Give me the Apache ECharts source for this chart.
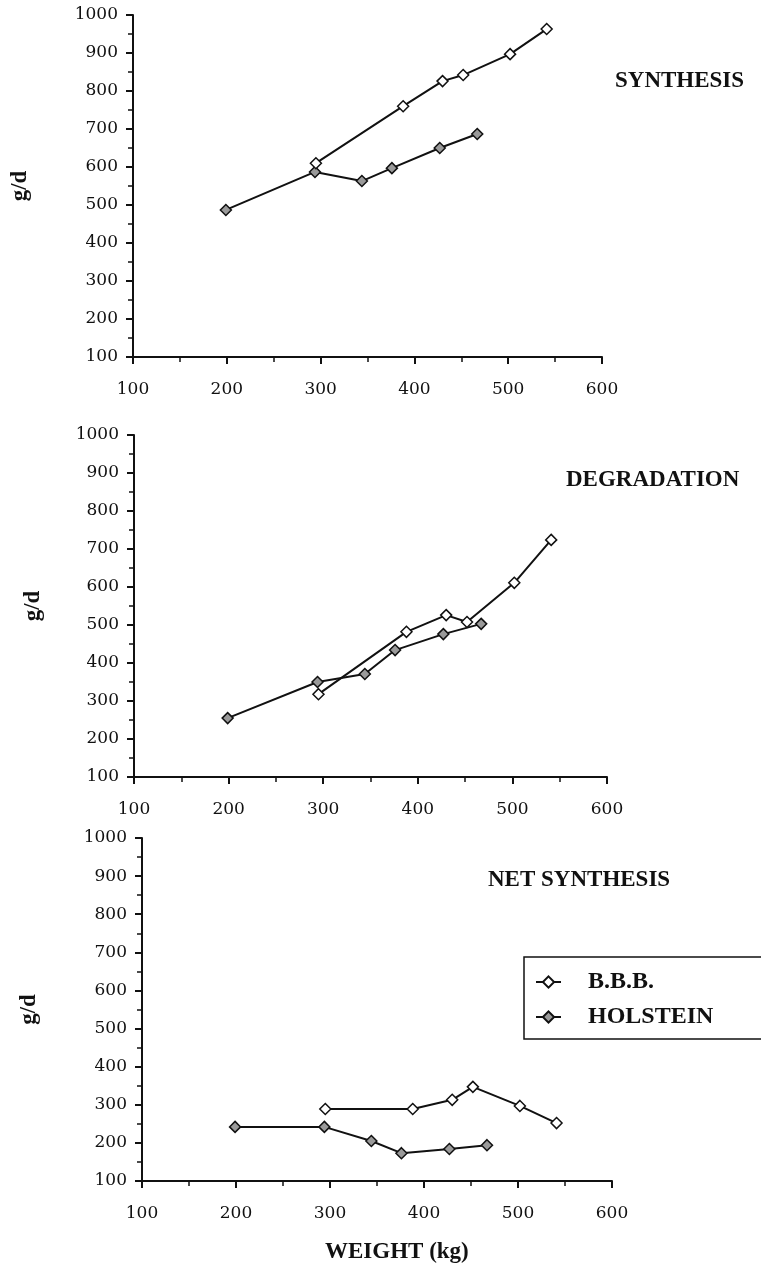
<!DOCTYPE html>
<html>
<head>
<meta charset="utf-8">
<title>Protein synthesis / degradation</title>
<script src="https://cdn.jsdelivr.net/npm/echarts@6/dist/echarts.min.js"></script>
<style>
	html, body { margin: 0; padding: 0; background: #fff; }
	#protein-turnover { width: 761px; height: 1271px; }
</style>
</head>
<body>
<div id="protein-turnover"></div>
<script>
// live weight (kg) at each measurement
var weightBBB = [295, 388, 430, 452, 502, 541];
var weightHolstein = [199, 294, 344, 376, 427, 467];

// g/d
var synthesisBBB = [610, 760, 826, 842, 897, 963];
var synthesisHolstein = [487, 587, 563, 597, 650, 687];
var degradationBBB = [318, 482, 526, 508, 611, 724];
var degradationHolstein = [255, 350, 371, 434, 476, 503];
var netBBB = [289, 289, 313, 347, 297, 252];
var netHolstein = [242, 242, 205, 173, 184, 194];

var panelTitles = ['SYNTHESIS', 'DEGRADATION', 'NET SYNTHESIS'];
var breeds = ['B.B.B.', 'HOLSTEIN'];

function pairs(xs, ys){
	var out = [];
	for (var i = 0; i < xs.length; i++) {
		out.push([xs[i], ys[i]]);
	}
	return out;
}

function proteinTurnover(){
	var chart = echarts.init(document.getElementById('protein-turnover'));

	var ink = '#111';
	var serif = 'DejaVu Serif';
	var boldSerif = 'Liberation Serif';

	// outerBoundsMode off so the plot boxes stay where they are put
	var grids = [
		{left: 133, top: 15, width: 469, height: 342, outerBoundsMode: 'none'},
		{left: 134, top: 435, width: 473, height: 342, outerBoundsMode: 'none'},
		{left: 142, top: 838, width: 470, height: 343, outerBoundsMode: 'none'}
	];
	var nameGaps = [101, 89, 101];

	var xAxes = [], yAxes = [];
	for (var g = 0; g < 3; g++) {
		xAxes.push({
			type: 'value',
			gridIndex: g,
			min: 100,
			max: 600,
			interval: 100,
			axisLine: {show: true, onZero: false, lineStyle: {color: ink, width: 2}},
			axisTick: {show: true, length: 7, lineStyle: {color: ink, width: 2}},
			minorTick: {show: true, splitNumber: 2, length: 5, lineStyle: {color: ink, width: 1.5}},
			splitLine: {show: false},
			axisLabel: {
				margin: 24, color: ink, fontFamily: serif, fontSize: 17,
				formatter: function(v){ return String(v); }
			}
		});
		yAxes.push({
			type: 'value',
			gridIndex: g,
			min: 100,
			max: 1000,
			interval: 100,
			name: 'g/d',
			nameLocation: 'middle',
			nameRotate: 90,
			nameGap: nameGaps[g],
			nameTextStyle: {color: ink, fontFamily: boldSerif, fontWeight: 'bold', fontSize: 23},
			axisLine: {show: true, lineStyle: {color: ink, width: 2}},
			axisTick: {show: true, length: 7, lineStyle: {color: ink, width: 2}},
			minorTick: {show: true, splitNumber: 2, length: 5, lineStyle: {color: ink, width: 1.5}},
			splitLine: {show: false},
			axisLabel: {
				margin: 15, color: ink, fontFamily: serif, fontSize: 17,
				formatter: function(v){ return String(v); }
			}
		});
	}

	var bbbStyle = {
		symbol: 'diamond',
		symbolSize: 11,
		itemStyle: {color: '#ffffff', borderColor: ink, borderWidth: 1.5},
		lineStyle: {color: ink, width: 2}
	};
	var holsteinStyle = {
		symbol: 'diamond',
		symbolSize: 11,
		itemStyle: {color: '#9a9a9a', borderColor: ink, borderWidth: 1.5},
		lineStyle: {color: ink, width: 2}
	};

	var panels = [
		[synthesisBBB, synthesisHolstein],
		[degradationBBB, degradationHolstein],
		[netBBB, netHolstein]
	];

	var series = [];
	for (var p = 0; p < panels.length; p++) {
		series.push(echarts.util.extend({
			name: breeds[0],
			type: 'line',
			xAxisIndex: p,
			yAxisIndex: p,
			z: 3,
			data: pairs(weightBBB, panels[p][0])
		}, bbbStyle));
		series.push(echarts.util.extend({
			name: breeds[1],
			type: 'line',
			xAxisIndex: p,
			yAxisIndex: p,
			z: 2,
			data: pairs(weightHolstein, panels[p][1])
		}, holsteinStyle));
	}

	var titleFont = {color: ink, fontFamily: boldSerif, fontWeight: 'bold', fontSize: 23};

	var options = {
		animation: false,
		backgroundColor: '#ffffff',
		title: [
			{text: panelTitles[0], left: 615, top: 70, padding: 0, textStyle: titleFont},
			{text: panelTitles[1], left: 566, top: 469, padding: 0, textStyle: titleFont},
			{text: panelTitles[2], left: 488, top: 869, padding: 0, textStyle: titleFont},
			{text: 'WEIGHT (kg)', left: 325, top: 1241, padding: 0, textStyle: titleFont}
		],
		legend: {
			data: breeds,
			orient: 'vertical',
			left: 524,
			top: 957,
			padding: [13, 60, 10, 11],
			itemGap: 11,
			itemWidth: 25,
			itemHeight: 14,
			borderColor: ink,
			borderWidth: 1.5,
			textStyle: {
				color: ink,
				fontFamily: boldSerif,
				fontWeight: 'bold',
				fontSize: 24,
				lineHeight: 24,
				padding: [0, 0, 0, 22]
			}
		},
		grid: grids,
		xAxis: xAxes,
		yAxis: yAxes,
		series: series
	};

	chart.setOption(options);
}

proteinTurnover();
</script>
</body>
</html>
